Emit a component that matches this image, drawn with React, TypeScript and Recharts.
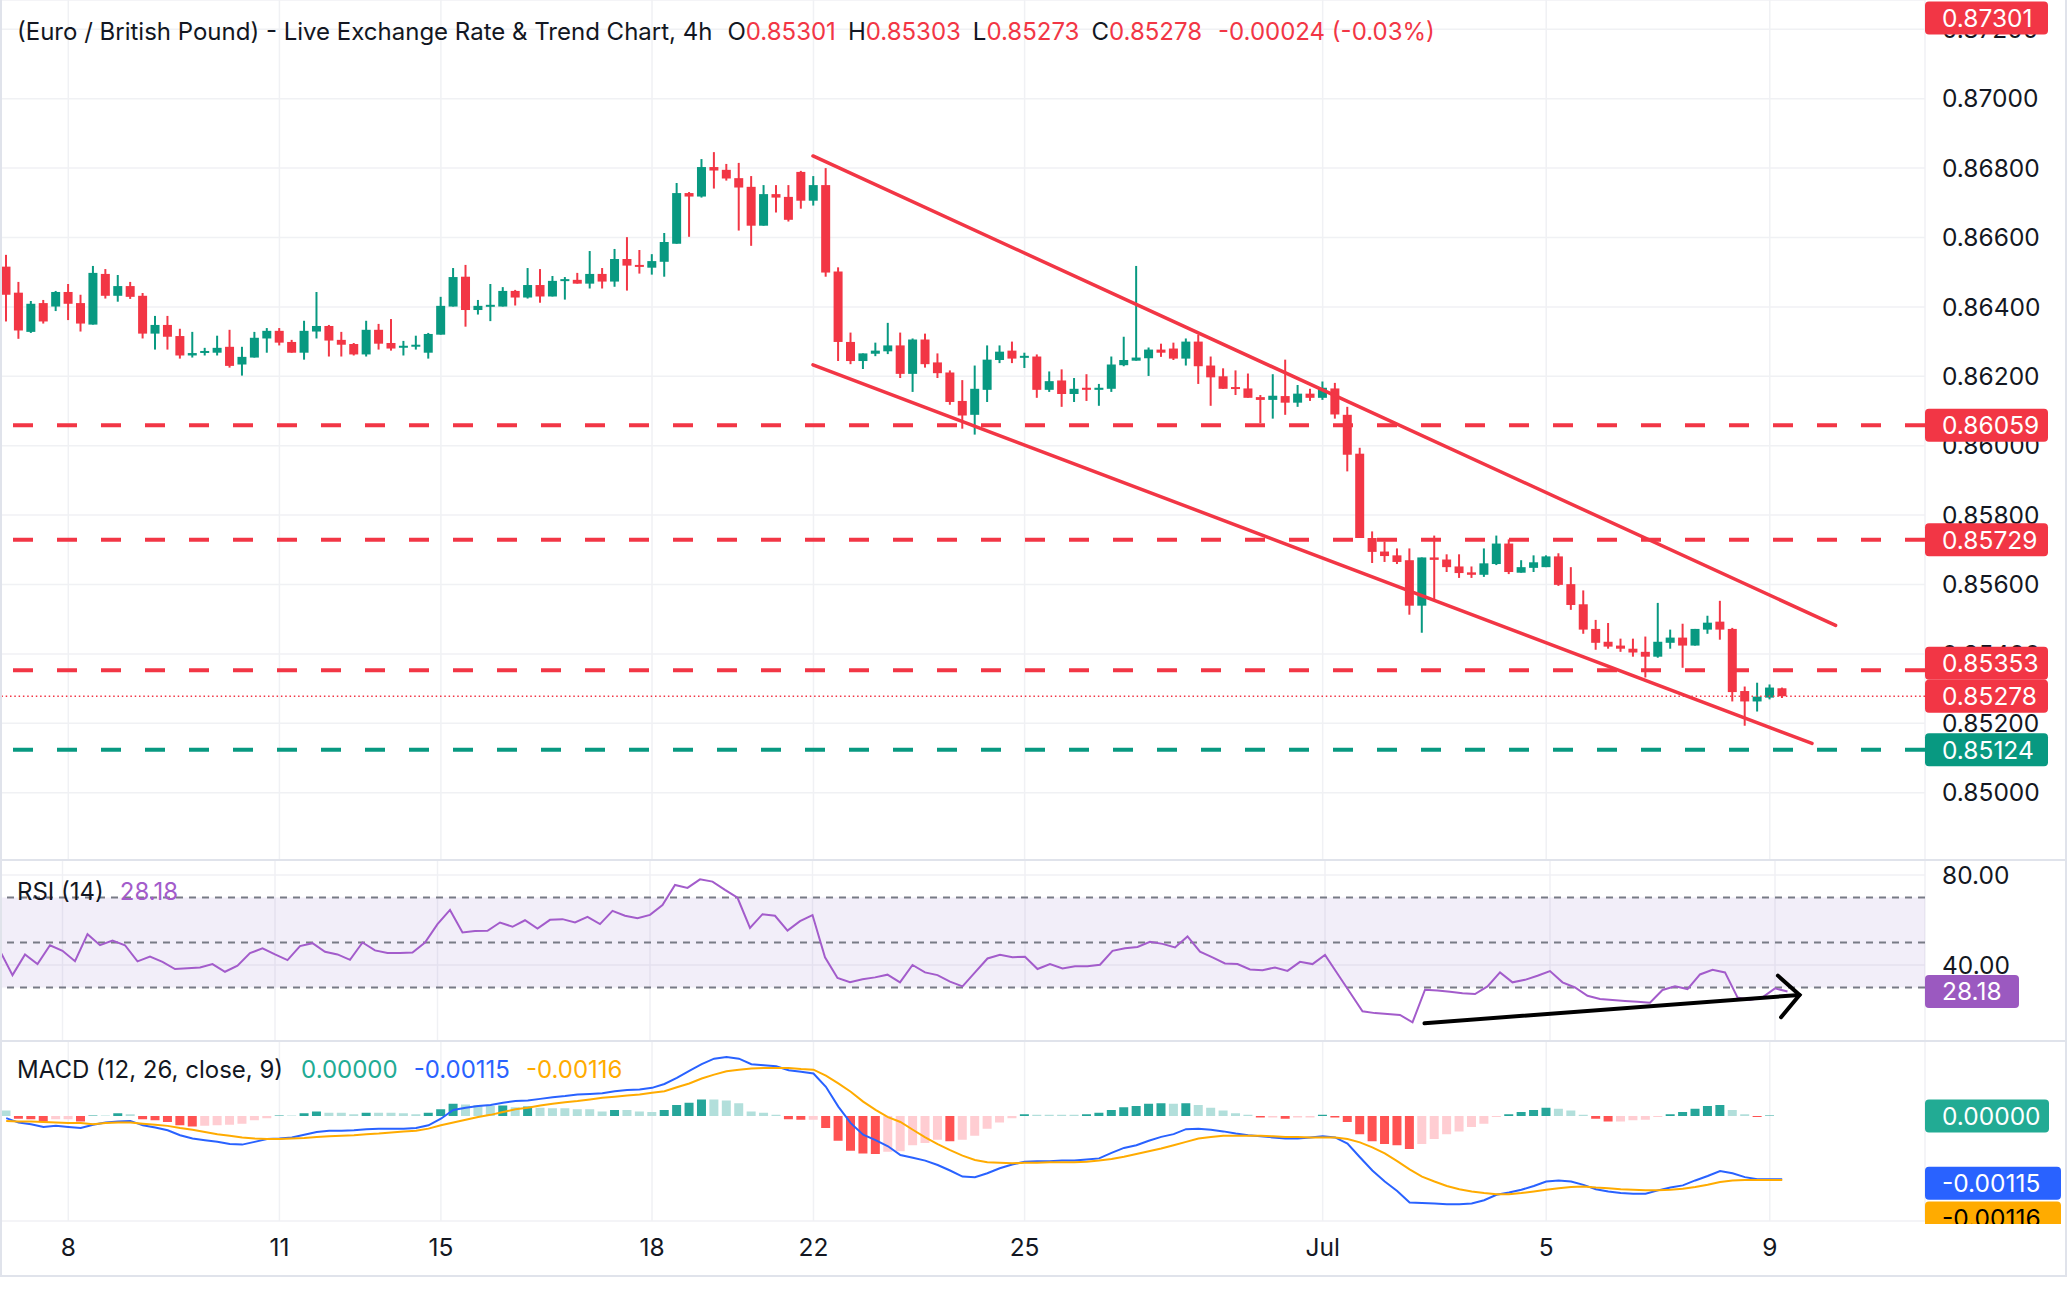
import React from "react";
import {
  ComposedChart,
  Bar,
  Line,
  XAxis,
  YAxis,
  CartesianGrid,
  ReferenceLine,
  ReferenceArea,
  Cell,
} from "recharts";

// prices are in units of 0.00001
const opens = [
  86516, 86441, 86328, 86411, 86401, 86443, 86411, 86349, 86495, 86432,
  86460, 86432, 86323, 86348, 86316, 86260, 86268, 86268, 86285, 86234,
  86254, 86309, 86331, 86299, 86268, 86329, 86345, 86305, 86293, 86263,
  86334, 86296, 86283, 86286, 86268, 86320, 86401, 86487, 86391, 86401,
  86401, 86446, 86427, 86463, 86430, 86477, 86478, 86467, 86495, 86473,
  86538, 86521, 86513, 86530, 86582, 86728, 86718, 86803, 86795, 86771,
  86746, 86634, 86725, 86717, 86789, 86706, 86751, 86502, 86299, 86244,
  86265, 86272, 86289, 86207, 86306, 86240, 86211, 86129, 86089, 86161,
  86247, 86274, 86255, 86257, 86161, 86188, 86149, 86167, 86161, 86164,
  86232, 86245, 86252, 86277, 86280, 86251, 86300, 86231, 86200, 86169,
  86165, 86140, 86132, 86143, 86124, 86150, 86138, 86165, 86089, 85977,
  85734, 85695, 85684, 85670, 85539, 85678, 85672, 85652, 85635, 85628,
  85659, 85718, 85634, 85648, 85650, 85681, 85601, 85543, 85472, 85435,
  85424, 85415, 85406, 85392, 85432, 85447, 85424, 85470, 85493, 85472,
  85293, 85263, 85274, 85301,
];
const highs = [
  86550, 86472, 86417, 86420, 86446, 86466, 86435, 86518, 86509, 86492,
  86472, 86440, 86374, 86374, 86337, 86328, 86282, 86317, 86334, 86285,
  86328, 86339, 86339, 86305, 86360, 86443, 86348, 86328, 86296, 86360,
  86351, 86365, 86302, 86317, 86325, 86429, 86512, 86521, 86420, 86466,
  86457, 86449, 86512, 86509, 86489, 86486, 86498, 86561, 86512, 86567,
  86601, 86564, 86552, 86613, 86757, 86731, 86826, 86846, 86812, 86815,
  86777, 86751, 86751, 86751, 86792, 86777, 86800, 86514, 86326, 86266,
  86297, 86354, 86326, 86309, 86323, 86266, 86217, 86189, 86231, 86289,
  86289, 86300, 86268, 86263, 86214, 86220, 86195, 86206, 86178, 86257,
  86314, 86518, 86283, 86294, 86297, 86309, 86320, 86257, 86223, 86217,
  86208, 86146, 86206, 86248, 86175, 86164, 86185, 86181, 86112, 85994,
  85753, 85724, 85704, 85704, 85678, 85741, 85687, 85687, 85652, 85704,
  85741, 85730, 85670, 85684, 85684, 85690, 85650, 85583, 85498, 85489,
  85444, 85444, 85450, 85547, 85470, 85487, 85472, 85510, 85553, 85475,
  85306, 85317, 85312, 85303,
];
const lows = [
  86358, 86308, 86325, 86352, 86388, 86362, 86329, 86349, 86424, 86415,
  86423, 86309, 86277, 86277, 86251, 86254, 86260, 86260, 86225, 86202,
  86254, 86268, 86289, 86268, 86248, 86309, 86257, 86257, 86260, 86257,
  86277, 86274, 86260, 86277, 86251, 86320, 86401, 86343, 86378, 86359,
  86401, 86404, 86424, 86412, 86430, 86421, 86467, 86453, 86453, 86458,
  86447, 86496, 86493, 86487, 86582, 86602, 86715, 86741, 86764, 86620,
  86576, 86634, 86672, 86646, 86683, 86692, 86487, 86244, 86235, 86221,
  86258, 86264, 86195, 86155, 86225, 86195, 86118, 86049, 86032, 86126,
  86238, 86238, 86224, 86138, 86155, 86112, 86126, 86129, 86115, 86155,
  86229, 86245, 86201, 86256, 86247, 86231, 86178, 86115, 86164, 86146,
  86138, 86065, 86078, 86089, 86112, 86129, 86132, 86078, 85926, 85734,
  85662, 85665, 85659, 85513, 85461, 85553, 85636, 85619, 85619, 85622,
  85656, 85630, 85634, 85636, 85650, 85596, 85527, 85458, 85412, 85415,
  85406, 85392, 85332, 85389, 85415, 85360, 85424, 85458, 85441, 85263,
  85193, 85234, 85269, 85273,
];
const closes = [
  86435, 86332, 86409, 86358, 86443, 86409, 86352, 86498, 86432, 86460,
  86429, 86323, 86348, 86314, 86260, 86267, 86273, 86282, 86230, 86256,
  86311, 86331, 86297, 86268, 86331, 86345, 86303, 86291, 86263, 86334,
  86294, 86280, 86288, 86291, 86322, 86403, 86486, 86391, 86403, 86406,
  86446, 86427, 86463, 86430, 86475, 86480, 86467, 86495, 86473, 86538,
  86519, 86516, 86532, 86587, 86728, 86718, 86803, 86793, 86770, 86744,
  86634, 86725, 86715, 86651, 86706, 86751, 86499, 86299, 86244, 86266,
  86274, 86289, 86207, 86306, 86235, 86209, 86126, 86087, 86164, 86248,
  86271, 86251, 86259, 86161, 86186, 86149, 86164, 86161, 86167, 86234,
  86247, 86254, 86277, 86268, 86251, 86300, 86229, 86197, 86164, 86164,
  86138, 86132, 86144, 86124, 86150, 86138, 86167, 86090, 85974, 85734,
  85694, 85682, 85665, 85539, 85678, 85671, 85650, 85633, 85628, 85661,
  85718, 85636, 85650, 85664, 85681, 85599, 85541, 85470, 85432, 85421,
  85415, 85404, 85392, 85435, 85447, 85424, 85472, 85490, 85470, 85290,
  85263, 85277, 85303, 85278,
];

const rsiValues = [
  46.3, 35.5, 44.7, 40.4, 48.8, 46.3, 41.7, 53.7, 48.8, 50.9,
  48.8, 41.6, 43.7, 41.4, 38.2, 38.6, 38.9, 40.4, 37.0, 39.7,
  45.3, 47.4, 44.7, 42.2, 48.4, 49.7, 45.9, 44.7, 42.3, 50.0,
  46.5, 45.3, 45.3, 45.6, 50.0, 58.2, 64.5, 54.5, 55.1, 55.2,
  58.9, 57.0, 59.9, 56.2, 60.1, 60.4, 58.9, 61.4, 58.2, 64.1,
  61.9, 60.8, 62.3, 66.7, 75.6, 74.3, 78.1, 77.1, 73.4, 69.9,
  56.5, 62.6, 61.9, 55.3, 59.5, 62.2, 43.4, 34.2, 32.3, 33.7,
  34.5, 35.7, 32.3, 40.0, 36.7, 35.5, 32.6, 30.5, 36.7, 42.9,
  44.5, 43.5, 43.7, 38.2, 40.4, 38.5, 39.4, 39.4, 40.1, 46.3,
  47.4, 48.0, 50.3, 49.4, 47.8, 52.7, 45.9, 43.4, 40.7, 40.4,
  38.0, 37.7, 38.9, 37.4, 41.4, 40.4, 44.5, 36.1, 27.8, 19.4,
  18.6, 18.2, 17.8, 14.5, 29.0, 28.7, 28.1, 27.4, 27.1, 30.5,
  36.7, 32.3, 33.4, 35.2, 37.3, 32.3, 30.0, 26.3, 24.9, 24.4,
  24.0, 23.7, 23.2, 28.9, 30.5, 29.3, 35.8, 37.9, 36.7, 25.6,
  24.4, 25.6, 29.6, 28.18,
];

// MACD values in units of 0.00001
const macdValues = [
  -4, -12, -15, -20, -18, -20, -22, -16, -12, -10,
  -9, -17, -21, -26, -35, -41, -44, -47, -51, -52,
  -47, -42, -41, -39, -34, -29, -27, -27, -26, -24,
  -23, -23, -23, -22, -17, -5, 11, 15, 18, 20,
  24, 27, 28, 31, 34, 36, 39, 40, 41, 45,
  47, 48, 51, 58, 69, 82, 94, 104, 107, 104,
  94, 92, 90, 83, 80, 77, 53, 17, -13, -34,
  -44, -55, -71, -76, -81, -89, -99, -110, -111, -104,
  -95, -88, -83, -82, -82, -81, -81, -79, -77, -67,
  -58, -53, -45, -38, -33, -24, -23, -25, -28, -32,
  -35, -37, -39, -41, -41, -39, -37, -39, -50, -75,
  -99, -119, -136, -157, -158, -159, -160, -160, -159, -153,
  -143, -139, -134, -127, -119, -117, -119, -125, -133, -137,
  -140, -141, -141, -135, -130, -126, -117, -109, -100, -104,
  -111, -115, -115, -115,
];
const signalValues = [
  -9, -10, -10, -11, -12, -13, -13, -15, -13, -12,
  -12, -14, -16, -18, -22, -25, -29, -33, -36, -39,
  -41, -42, -42, -41, -40, -38, -37, -36, -35, -33,
  -32, -30, -28, -27, -23, -17, -12, -7, -2, 2,
  7, 12, 15, 19, 22, 25, 27, 30, 33, 35,
  37, 39, 42, 45, 52, 59, 68, 75, 81, 84,
  86, 87, 87, 87, 85, 84, 73, 59, 44, 26,
  11, -2, -11, -25, -39, -51, -62, -72, -80, -84,
  -85, -86, -85, -85, -84, -84, -84, -83, -81, -78,
  -74, -69, -64, -59, -53, -47, -41, -38, -36, -36,
  -36, -36, -37, -38, -38, -39, -39, -39, -42, -48,
  -57, -68, -82, -97, -110, -119, -127, -133, -137, -140,
  -142, -142, -140, -137, -134, -131, -129, -128, -130, -131,
  -133, -134, -135, -135, -134, -132, -129, -125, -120, -117,
  -116, -116, -116, -116,
];
const histValues = [
  10, -5, -6, -10, -6, -6, -10, 1, 1, 5,
  3, -6, -8, -11, -17, -19, -18, -17, -16, -14,
  -8, -4, 1, 1, 5, 8, 6, 6, 3, 6,
  6, 6, 5, 3, 6, 12, 22, 21, 20, 18,
  19, 16, 17, 15, 14, 14, 12, 12, 8, 11,
  11, 8, 7, 11, 20, 24, 30, 30, 28, 23,
  8, 6, 2, -6, -7, -7, -22, -45, -63, -68,
  -69, -65, -64, -53, -49, -43, -46, -43, -36, -23,
  -12, -4, 3, 2, 2, 2, 2, 3, 6, 11,
  16, 18, 22, 23, 22, 23, 20, 15, 10, 5,
  2, -3, -3, -5, -3, -3, 2, -3, -11, -33,
  -46, -51, -53, -60, -51, -42, -33, -28, -20, -14,
  -2, 3, 7, 11, 15, 13, 10, 2, -5, -10,
  -10, -8, -7, -2, 3, 7, 13, 18, 20, 11,
  3, -2, 1, 0,
];

const dayTicks = [5, 22, 35, 52, 65, 82, 106, 124, 142];
const dayLabels = ["8", "11", "15", "18", "22", "25", "Jul", "5", "9"];
const priceTicks = [0.85, 0.852, 0.854, 0.856, 0.858, 0.86, 0.862, 0.864, 0.866, 0.868, 0.87, 0.872];
const rsiTicks = [40, 80];
const rsiBands = [30, 50, 70];

const resistanceLevels = [0.86059, 0.85729, 0.85353];
const supportLevels = [0.85124];
const lastPrice = 0.85278;
const alertPrice = 0.87301;
// channel lines: [bar index, price]
const upperChannel = [[64.96, 0.86835], [147.3, 0.85482]];
const lowerChannel = [[64.96, 0.86233], [145.4, 0.85142]];
// RSI divergence arrow: [bar index, RSI]
const rsiArrow = [[114.2, 14.1], [144.4, 26.7]];

const PIP = 1e-5;
const SLOTS = 155;
const W = 2070;
const AXIS_W = 145;
const PRICE_H = 860;
const RSI_H = 181;
const MACD_PLOT_H = 180;
const TIME_H = 55;
const PRICE_DOMAIN = [0.848061, 0.872844];
const RSI_DOMAIN = [6.2, 86.7];
const MACD_DOMAIN = [-0.001906, 0.00136];

const FONT = "Inter, Roboto, 'Noto Sans', sans-serif";
const TEXT = "#131722";
const GREEN = "#089981";
const RED = "#f23645";
const GRID = "#f0f1f4";
const RSI_COLOR = "#a35ccb";
const MACD_COLOR = "#2962ff";
const SIGNAL_COLOR = "#ffab00";

const priceRows = Array.from({ length: SLOTS }, (_, i) =>
  i < opens.length
    ? {
        i,
        open: opens[i] * PIP,
        high: highs[i] * PIP,
        low: lows[i] * PIP,
        close: closes[i] * PIP,
        range: [lows[i] * PIP, highs[i] * PIP],
      }
    : { i }
);
const rsiRows = Array.from({ length: SLOTS }, (_, i) =>
  i < rsiValues.length ? { i, rsi: rsiValues[i] } : { i }
);
const macdRows = Array.from({ length: SLOTS }, (_, i) =>
  i < macdValues.length
    ? { i, macd: macdValues[i] * PIP, signal: signalValues[i] * PIP, hist: histValues[i] * PIP }
    : { i }
);
const idxRows = Array.from({ length: SLOTS }, (_, i) => ({ i }));

const histColor = (i: number) => {
  if (i >= histValues.length) return "transparent";
  const h = histValues[i];
  const prev = i > 0 ? histValues[i - 1] : h;
  if (h >= 0) return h > prev ? "#26a69a" : "#b2dfdb";
  return h < prev ? "#ff5252" : "#ffcdd2";
};

const Candle = (props: any) => {
  const { x, y, width, height, payload } = props;
  if (!payload || payload.open == null) return null;
  const { open, close, high, low } = payload;
  const color = close >= open ? GREEN : RED;
  const top0 = Math.min(y, y + height);
  const h = Math.abs(height);
  const span = high - low || 1e-9;
  const toY = (v: number) => top0 + ((high - v) / span) * h;
  const bTop = toY(Math.max(open, close));
  const bBot = toY(Math.min(open, close));
  const cx = x + width / 2;
  return (
    <g>
      <line x1={cx} x2={cx} y1={top0} y2={top0 + h} stroke={color} strokeWidth={2} />
      <rect x={x} y={bTop} width={width} height={Math.max(bBot - bTop, 2)} fill={color} />
    </g>
  );
};

const Tag = (props: any) => {
  const { viewBox, text, bg, fg = "#ffffff", w = 123, shift = 0, minY, maxY } = props;
  if (!viewBox) return null;
  const x = viewBox.x + viewBox.width;
  let cy = viewBox.y + shift;
  if (minY != null) cy = Math.max(cy, minY);
  const clipId = `clip-${String(text).replace(/[^0-9]/g, "")}`;
  return (
    <g>
      {maxY != null && (
        <defs>
          <clipPath id={clipId}>
            <rect x={x} y={0} width={w + 10} height={maxY} />
          </clipPath>
        </defs>
      )}
      <g clipPath={maxY != null ? `url(#${clipId})` : undefined}>
        <rect x={x} y={cy - 16.5} width={w} height={33} rx={4} fill={bg} />
        <text x={x + 17} y={cy} dy="0.36em" fill={fg} fontSize={24.5} fontFamily={FONT}>
          {text}
        </text>
      </g>
    </g>
  );
};

const ArrowShape = (p: any) => {
  const { x1, y1, x2, y2 } = p;
  if ([x1, y1, x2, y2].some((v) => v == null || isNaN(v))) return null;
  const ang = Math.atan2(y2 - y1, x2 - x1);
  const len = 29;
  const spread = (46 * Math.PI) / 180;
  const a1 = ang + Math.PI - spread;
  const a2 = ang + Math.PI + spread;
  return (
    <g>
      <line x1={x1} y1={y1} x2={x2} y2={y2} stroke="#000" strokeWidth={4} strokeLinecap="round" />
      <polyline
        points={`${x2 + len * Math.cos(a1)},${y2 + len * Math.sin(a1)} ${x2},${y2} ${x2 + len * Math.cos(a2)},${y2 + len * Math.sin(a2)}`}
        fill="none"
        stroke="#000"
        strokeWidth={4}
        strokeLinecap="round"
      />
    </g>
  );
};

const fmt5 = (v: number) => v.toFixed(5);
const tickStyle = { fill: TEXT, fontSize: 24.5, fontFamily: FONT };

type TagSpec = { value: number; text: string; bg: string; fg?: string; w?: number; shift?: number; minY?: number; maxY?: number };

// value tags on the right price scale, drawn in a layer above the axis labels
function TagLayer({ height, bottom, domain, tags }: { height: number; bottom: number; domain: number[]; tags: TagSpec[] }) {
  return (
    <ComposedChart width={W} height={height} data={idxRows} margin={{ top: 0, right: 0, bottom, left: 0 }}>
      <XAxis xAxisId="c" dataKey="i" type="category" hide />
      <YAxis
        yAxisId="t"
        orientation="right"
        width={AXIS_W}
        type="number"
        domain={domain}
        allowDataOverflow
        tick={false}
        axisLine={false}
        tickLine={false}
      />
      {tags.map((t, k) => (
        <ReferenceLine
          key={k}
          xAxisId="c"
          yAxisId="t"
          y={t.value}
          stroke="none"
          ifOverflow="visible"
          label={<Tag text={t.text} bg={t.bg} fg={t.fg} w={t.w} shift={t.shift} minY={t.minY} maxY={t.maxY} />}
        />
      ))}
    </ComposedChart>
  );
}

function PriceChart() {
  return (
    <ComposedChart
      width={W}
      height={PRICE_H}
      data={priceRows}
      margin={{ top: 0, right: 0, bottom: 0, left: 0 }}
      barCategoryGap="12%"
    >
      <XAxis xAxisId="c" dataKey="i" type="category" ticks={dayTicks} interval={0} hide />
      <XAxis xAxisId="n" dataKey="i" type="number" domain={[-0.5, SLOTS - 0.5]} allowDataOverflow hide />
      <YAxis
        yAxisId="p"
        orientation="right"
        width={AXIS_W}
        type="number"
        domain={PRICE_DOMAIN}
        allowDataOverflow
        ticks={priceTicks}
        tickFormatter={fmt5}
        axisLine={false}
        tickLine={false}
        tickSize={0}
        tickMargin={17}
        tick={tickStyle}
        interval={0}
      />
      <CartesianGrid xAxisId="c" yAxisId="p" stroke={GRID} strokeWidth={1.5} />
      <Bar xAxisId="c" yAxisId="p" dataKey="range" shape={Candle} isAnimationActive={false} />
      {resistanceLevels.map((v, k) => (
        <ReferenceLine
          key={`r${k}`}
          xAxisId="c"
          yAxisId="p"
          y={v}
          stroke={RED}
          strokeWidth={4}
          strokeDasharray="20 24"
        />
      ))}
      {supportLevels.map((v, k) => (
        <ReferenceLine
          key={`s${k}`}
          xAxisId="c"
          yAxisId="p"
          y={v}
          stroke={GREEN}
          strokeWidth={4}
          strokeDasharray="20 24"
        />
      ))}
      <ReferenceLine
        xAxisId="c"
        yAxisId="p"
        y={lastPrice}
        stroke={RED}
        strokeWidth={1.5}
        strokeDasharray="1.5 2.8"
      />
      <ReferenceLine
        xAxisId="n"
        yAxisId="p"
        segment={upperChannel.map(([x, y]) => ({ x, y }))}
        stroke={RED}
        strokeWidth={3.5}
        strokeLinecap="round"
        ifOverflow="visible"
      />
      <ReferenceLine
        xAxisId="n"
        yAxisId="p"
        segment={lowerChannel.map(([x, y]) => ({ x, y }))}
        stroke={RED}
        strokeWidth={3.5}
        strokeLinecap="round"
        ifOverflow="visible"
      />
    </ComposedChart>
  );
}

function RsiChart() {
  return (
    <ComposedChart width={W} height={RSI_H} data={rsiRows} margin={{ top: 0, right: 0, bottom: 0, left: 0 }}>
      <XAxis xAxisId="c" dataKey="i" type="category" ticks={dayTicks} interval={0} hide />
      <XAxis xAxisId="n" dataKey="i" type="number" domain={[-0.5, SLOTS - 0.5]} allowDataOverflow hide />
      <YAxis
        yAxisId="r"
        orientation="right"
        width={AXIS_W}
        type="number"
        domain={RSI_DOMAIN}
        allowDataOverflow
        ticks={rsiTicks}
        tickFormatter={(v: number) => v.toFixed(2)}
        axisLine={false}
        tickLine={false}
        tickSize={0}
        tickMargin={17}
        tick={tickStyle}
        interval={0}
      />
      <CartesianGrid xAxisId="c" yAxisId="r" stroke={GRID} strokeWidth={1.5} />
      <ReferenceArea xAxisId="c" yAxisId="r" y1={rsiBands[0]} y2={rsiBands[2]} fill="#7e57c2" fillOpacity={0.1} stroke="none" />
      {rsiBands.map((v) => (
        <ReferenceLine key={v} xAxisId="c" yAxisId="r" y={v} stroke="#787b86" strokeWidth={2} strokeDasharray="7 6" />
      ))}
      <Line
        xAxisId="c"
        yAxisId="r"
        dataKey="rsi"
        stroke={RSI_COLOR}
        strokeWidth={2}
        dot={false}
        isAnimationActive={false}
      />
      <ReferenceLine
        xAxisId="n"
        yAxisId="r"
        segment={rsiArrow.map(([x, y]) => ({ x, y }))}
        ifOverflow="visible"
        shape={ArrowShape}
      />
    </ComposedChart>
  );
}

function MacdChart() {
  return (
    <ComposedChart
      width={W}
      height={MACD_PLOT_H + TIME_H}
      data={macdRows}
      margin={{ top: 0, right: 0, bottom: 0, left: 0 }}
      barCategoryGap="12%"
    >
      <XAxis
        xAxisId="c"
        dataKey="i"
        type="category"
        ticks={dayTicks}
        interval={0}
        height={TIME_H}
        tickFormatter={(v: number) => dayLabels[dayTicks.indexOf(v)] ?? ""}
        axisLine={false}
        tickLine={false}
        tickSize={0}
        tickMargin={18}
        tick={tickStyle}
      />
      <YAxis
        yAxisId="m"
        orientation="right"
        width={AXIS_W}
        type="number"
        domain={MACD_DOMAIN}
        allowDataOverflow
        ticks={[0]}
        tick={false}
        axisLine={false}
        tickLine={false}
      />
      <CartesianGrid xAxisId="c" yAxisId="m" stroke={GRID} strokeWidth={1.5} />
      <Bar xAxisId="c" yAxisId="m" dataKey="hist" isAnimationActive={false}>
        {macdRows.map((_, i) => (
          <Cell key={i} fill={histColor(i)} />
        ))}
      </Bar>
      <Line xAxisId="c" yAxisId="m" dataKey="macd" stroke={MACD_COLOR} strokeWidth={2} dot={false} isAnimationActive={false} />
      <Line xAxisId="c" yAxisId="m" dataKey="signal" stroke={SIGNAL_COLOR} strokeWidth={2} dot={false} isAnimationActive={false} />
    </ComposedChart>
  );
}

const legendStyle: React.CSSProperties = {
  position: "absolute",
  left: 17,
  fontFamily: FONT,
  fontSize: 24,
  lineHeight: "30px",
  color: TEXT,
  whiteSpace: "nowrap",
};

export default function App() {
  const last = macdValues.length - 1;
  const rsiLast = rsiValues[rsiValues.length - 1];
  const priceTags: TagSpec[] = [
    ...resistanceLevels.map((v, k) => ({ value: v, text: fmt5(v), bg: RED, shift: k === 2 ? -7 : 0 })),
    ...supportLevels.map((v) => ({ value: v, text: fmt5(v), bg: GREEN })),
    { value: lastPrice, text: fmt5(lastPrice), bg: RED },
    { value: alertPrice, text: fmt5(alertPrice), bg: RED, minY: 18 },
  ];
  const rsiTags: TagSpec[] = [{ value: rsiLast, text: rsiLast.toFixed(2), bg: "#9b59c0", w: 94 }];
  const macdTags: TagSpec[] = [
    { value: histValues[last] * PIP, text: fmt5(histValues[last] * PIP), bg: "#22ab94", w: 124 },
    { value: macdValues[last] * PIP, text: fmt5(macdValues[last] * PIP), bg: MACD_COLOR, w: 136, shift: 4 },
    {
      value: signalValues[last] * PIP,
      text: fmt5(signalValues[last] * PIP),
      bg: SIGNAL_COLOR,
      fg: "#000",
      w: 136,
      shift: 38,
      maxY: MACD_PLOT_H + 3,
    },
  ];
  return (
    <div style={{ position: "absolute", left: 0, top: 0, width: W, height: 1298, background: "#fff", overflow: "hidden" }}>
      <div style={{ position: "absolute", left: 0, top: 0 }}>
        <PriceChart />
      </div>
      <div style={{ position: "absolute", left: 0, top: PRICE_H }}>
        <RsiChart />
      </div>
      <div style={{ position: "absolute", left: 0, top: PRICE_H + RSI_H }}>
        <MacdChart />
      </div>
      <div style={{ position: "absolute", left: 0, top: 0 }}>
        <TagLayer height={PRICE_H} bottom={0} domain={PRICE_DOMAIN} tags={priceTags} />
      </div>
      <div style={{ position: "absolute", left: 0, top: PRICE_H }}>
        <TagLayer height={RSI_H} bottom={0} domain={RSI_DOMAIN} tags={rsiTags} />
      </div>
      <div style={{ position: "absolute", left: 0, top: PRICE_H + RSI_H }}>
        <TagLayer height={MACD_PLOT_H + TIME_H} bottom={TIME_H} domain={MACD_DOMAIN} tags={macdTags} />
      </div>
      <div style={{ position: "absolute", left: 0, top: PRICE_H - 1, width: 2067, height: 2, background: "#e0e3eb" }} />
      <div style={{ position: "absolute", left: 0, top: PRICE_H + RSI_H - 1, width: 2067, height: 2, background: "#e0e3eb" }} />
      <div
        style={{
          position: "absolute",
          left: 0,
          top: 0,
          width: 2067,
          height: 1277,
          boxSizing: "border-box",
          borderLeft: "2px solid #e0e3eb",
          borderRight: "2px solid #e0e3eb",
          borderBottom: "2px solid #e0e3eb",
          pointerEvents: "none",
        }}
      />
      <div style={{ ...legendStyle, top: 17 }}>
        (Euro / British Pound) - Live Exchange Rate &amp; Trend Chart, 4h
        <span style={{ marginLeft: 15 }}>O</span>
        <span style={{ color: RED }}>0.85301</span>
        <span style={{ marginLeft: 12 }}>H</span>
        <span style={{ color: RED }}>0.85303</span>
        <span style={{ marginLeft: 12 }}>L</span>
        <span style={{ color: RED }}>0.85273</span>
        <span style={{ marginLeft: 12 }}>C</span>
        <span style={{ color: RED }}>0.85278</span>
        <span style={{ color: RED, marginLeft: 16 }}>-0.00024 (-0.03%)</span>
      </div>
      <div style={{ ...legendStyle, top: 877 }}>
        RSI (14)
        <span style={{ color: RSI_COLOR, marginLeft: 16 }}>28.18</span>
      </div>
      <div style={{ ...legendStyle, top: 1055 }}>
        MACD (12, 26, close, 9)
        <span style={{ color: "#22ab94", marginLeft: 18 }}>0.00000</span>
        <span style={{ color: MACD_COLOR, marginLeft: 16 }}>-0.00115</span>
        <span style={{ color: SIGNAL_COLOR, marginLeft: 16 }}>-0.00116</span>
      </div>
    </div>
  );
}
